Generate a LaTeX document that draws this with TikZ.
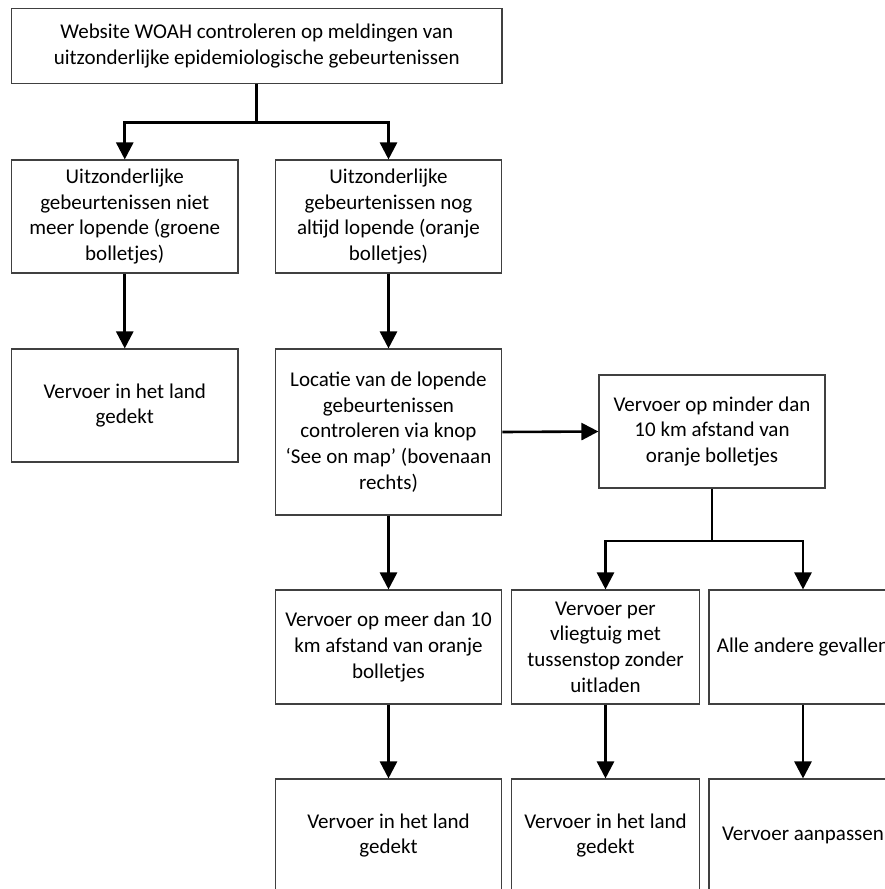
\documentclass[tikz,border=0pt]{standalone}
\usepackage{fontspec}
\setmainfont{Carlito}
\usetikzlibrary{arrows.meta}
\begin{document}
\begin{tikzpicture}[x=1bp,y=-1bp,
  box/.style={draw=black!75, line width=1.1bp, fill=white, align=center, inner sep=2bp,
    font=\fontsize{21bp}{25.7bp}\selectfont},
  conn/.style={line width=2.6bp, black},
  arr/.style={conn, -{Triangle[width=17bp,length=17bp]}}]
\useasboundingbox (0,0) rectangle (885,889);
\clip (0,0) rectangle (885,889);
\fill[white] (0,0) rectangle (885,889);
\node[box, minimum width=490.5bp, minimum height=75bp] (top) at (256.75,46)
  {Website WOAH controleren op meldingen van\\uitzonderlijke epidemiologische gebeurtenissen};
\node[box, minimum width=226.5bp, minimum height=113bp] (a) at (124.75,216.5)
  {Uitzonderlijke\\gebeurtenissen niet\\meer lopende (groene\\bolletjes)};
\node[box, minimum width=226.5bp, minimum height=113bp] (b) at (388.5,216.5)
  {Uitzonderlijke\\gebeurtenissen nog\\altijd lopende (oranje\\bolletjes)};
\node[box, minimum width=226.5bp, minimum height=113bp] (c) at (124.75,405.5)
  {Vervoer in het land\\gedekt};
\node[box, minimum width=226.5bp, minimum height=166bp] (d) at (388.5,432)
  {Locatie van de lopende\\gebeurtenissen\\controleren via knop\\‘See on map’ (bovenaan\\rechts)};
\node[box, minimum width=226bp, minimum height=113bp] (e) at (712,431.5)
  {Vervoer op minder dan\\10 km afstand van\\oranje bolletjes};
\node[box, minimum width=226.5bp, minimum height=114bp] (f) at (388.5,647)
  {Vervoer op meer dan 10\\km afstand van oranje\\bolletjes};
\node[box, minimum width=188bp, minimum height=114bp] (g) at (605.5,647)
  {Vervoer per\\vliegtuig met\\tussenstop zonder\\uitladen};
\node[box, minimum width=188bp, minimum height=114bp] (h) at (803,647)
  {Alle andere gevallen};
\node[box, minimum width=226.5bp, minimum height=113bp] (i) at (388.5,835.5)
  {Vervoer in het land\\gedekt};
\node[box, minimum width=188bp, minimum height=113bp] (j) at (605.5,835.5)
  {Vervoer in het land\\gedekt};
\node[box, minimum width=188bp, minimum height=113bp] (k) at (803,835.5)
  {Vervoer aanpassen};
\coordinate (j1) at (256.75,122.5);
\coordinate (j2) at (712,541);
\draw[conn] (top.south) -- (j1);
\draw[arr] (j1) -| (a.north);
\draw[arr] (j1) -| (b.north);
\draw[arr] (a.south) -- (c.north);
\draw[arr] (b.south) -- (d.north);
\draw[arr] (d.east) -- (e.west);
\draw[arr] (d.south) -- (f.north);
\draw[conn] (e.south) -- (j2);
\draw[arr] (j2) -| (g.north);
\draw[arr] (j2) -| (h.north);
\draw[arr] (f.south) -- (i.north);
\draw[arr] (g.south) -- (j.north);
\draw[arr] (h.south) -- (k.north);
\end{tikzpicture}
\end{document}
